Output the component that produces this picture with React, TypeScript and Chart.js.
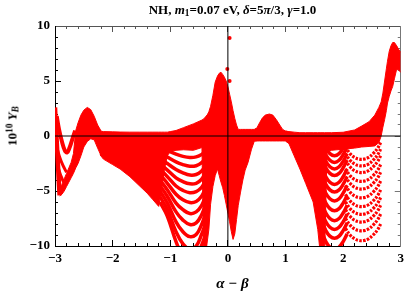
import React, { useEffect, useRef } from "react";
import { Chart, registerables } from "chart.js";

Chart.register(...registerables);

// ---------- axes ----------
const X_MIN = -3;
const X_MAX = 3;
const Y_MIN = -10;
const Y_MAX = 10;
const X_MAJOR = [-3, -2, -1, 0, 1, 2, 3];
const X_MINOR = [-3, -2.8, -2.6, -2.4, -2.2, -2, -1.8, -1.6, -1.4, -1.2, -1, -0.8, -0.6, -0.4, -0.2, 0, 0.2, 0.4, 0.6, 0.8, 1, 1.2, 1.4, 1.6, 1.8, 2, 2.2, 2.4, 2.6, 2.8, 3];
const Y_MAJOR = [-10, -5, 0, 5, 10];
const Y_MINOR = [-10, -9, -8, -7, -6, -5, -4, -3, -2, -1, 0, 1, 2, 3, 4, 5, 6, 7, 8, 9, 10];

// ---------- solid point clouds (upper / lower envelopes) ----------
const HUMP_X = [-2.92, -2.88, -2.84, -2.8, -2.76, -2.72, -2.68, -2.64, -2.6, -2.55, -2.5, -2.44, -2.38, -2.32, -2.26, -2.2];
const HUMP_HI = [-4.8, -4.4, -3.9, -3.4, -2.9, -2.4, -1.6, 0.5, 1.2, 1.9, 2.35, 2.6, 2.4, 1.8, 1.0, 0.45];
const HUMP_LO = [-5.45, -5.3, -5.0, -4.6, -4.2, -3.8, -3.4, -2.9, -2.5, -1.8, -1.0, -0.5, -0.25, -0.35, -1.1, -1.8];

const LEFT_X = [-2.22, -2.16, -2.0, -1.87, -1.7, -1.54, -1.4, -1.3, -1.2, -1.15, -1.1, -1.05, -1.0, -0.9, -0.77, -0.6, -0.45, -0.42, -0.36];
const LEFT_HI = [0.45, 0.4, 0.38, 0.36, 0.35, 0.35, 0.35, 0.35, 0.35, 0.35, 0.35, 0.35, 0.4, 0.5, 0.76, 1.1, 1.45, 1.55, 1.9];
const LEFT_LO = [-1.7, -2.1, -2.6, -3.0, -3.7, -4.5, -5.2, -5.8, -6.4, -4.8, -3.0, -1.8, -1.4, -1.3, -1.25, -1.3, -1.05, -10.5, -10.5];

const CENTER_X = [-0.38, -0.33, -0.3, -0.26, -0.22, -0.18, -0.15, -0.12, -0.09, -0.06, -0.03, 0.0, 0.03, 0.06, 0.09, 0.12, 0.15, 0.18, 0.22, 0.26, 0.3, 0.35, 0.41, 0.46, 0.5];
const CENTER_HI = [1.7, 2.2, 2.7, 3.7, 4.9, 5.45, 5.7, 5.8, 5.6, 5.35, 5.0, 4.5, 3.8, 3.1, 2.3, 1.6, 1.0, 0.6, 0.6, 0.6, 0.6, 0.6, 0.6, 0.6, 0.7];
const CENTER_LO = [-10.5, -8.5, -6.2, -4.6, -3.6, -3.0, -3.6, -4.2, -4.7, -5.4, -6.2, -7.0, -7.8, -8.7, -9.4, -8.9, -7.6, -6.3, -5.1, -4.0, -3.1, -2.4, -1.2, -0.45, -0.45];

const MID_X = [0.46, 0.5, 0.55, 0.6, 0.65, 0.72, 0.78, 0.84, 0.9, 0.95, 1.0, 1.04];
const MID_HI = [0.6, 0.7, 1.2, 1.65, 1.9, 2.0, 1.9, 1.5, 1.0, 0.6, 0.45, 0.4];
const MID_LO = [-0.45, -0.45, -0.45, -0.45, -0.45, -0.45, -0.45, -0.45, -0.45, -0.45, -0.45, -0.6];

const RIGHT_X = [1.0, 1.06, 1.15, 1.25, 1.35, 1.48, 1.56, 1.6, 1.68, 1.72, 1.8, 2.0, 2.2, 2.32, 2.45, 2.55, 2.62, 2.66, 2.69, 2.72, 2.75, 2.77, 2.8, 2.83, 2.86, 2.89, 2.93, 2.96, 3.0];
const RIGHT_HI = [0.45, 0.4, 0.35, 0.3, 0.3, 0.3, 0.3, 0.3, 0.3, 0.3, 0.3, 0.34, 0.55, 0.9, 1.3, 1.9, 2.6, 3.1, 3.9, 5.0, 6.1, 6.8, 7.7, 8.2, 8.5, 8.5, 8.2, 7.9, 7.6];
const RIGHT_LO = [-0.45, -0.7, -1.8, -3.0, -4.3, -6.0, -8.5, -10.5, -10.5, -1.4, -1.3, -1.2, -1.1, -1.0, -0.95, -0.9, -0.6, 0.0, 0.8, 1.5, 2.3, 3.0, 3.6, 4.1, 4.5, 5.2, 6.1, 6.0, 5.8];

// ---------- thin strands at the left edge ----------
const WISP_X = [-3.0, -2.99, -2.98, -2.97, -2.96, -2.95, -2.94, -2.93, -2.92];
const WISP_Y = [2.6, 1.5, 0.5, -0.5, -1.5, -2.5, -3.5, -4.5, -5.4];
const VSTRAND_X = [-2.97, -2.93, -2.88, -2.83, -2.79, -2.75, -2.7, -2.65];
const VSTRAND_Y = [1.8, 0.6, -0.5, -1.3, -1.5, -1.1, -0.3, 0.5];
const STRAND_A_X = [-2.97, -2.92, -2.86, -2.8];
const STRAND_A_Y = [-1.0, -1.9, -2.7, -3.3];
const STRAND_B_X = [-2.95, -2.9, -2.85];
const STRAND_B_Y = [-2.8, -3.6, -4.2];

// ---------- scalloped branches ----------
const LEFT_FAN_X = [-1.18, -1.05, -0.9, -0.78, -0.66, -0.55, -0.46, -0.39];
const LEFT_FAN_Y = [
  [-1.0, -1.3, -1.65, -1.85, -1.95, -1.9, -1.7, -1.3],
  [-1.5, -1.9, -2.35, -2.6, -2.75, -2.7, -2.45, -2.0],
  [-2.0, -2.5, -3.05, -3.35, -3.55, -3.5, -3.2, -2.7],
  [-2.5, -3.1, -3.8, -4.15, -4.35, -4.3, -3.95, -3.4],
  [-3.0, -3.7, -4.55, -4.95, -5.15, -5.05, -4.7, -4.1],
  [-3.5, -4.3, -5.3, -5.8, -6.05, -5.95, -5.5, -4.8],
  [-4.0, -4.9, -6.1, -6.7, -7.05, -6.9, -6.35, -5.5],
  [-4.5, -5.5, -6.9, -7.65, -8.05, -7.9, -7.2, -6.3],
  [-5.0, -6.1, -7.8, -8.7, -9.15, -8.95, -8.1, -7.1],
  [-5.5, -6.7, -8.7, -9.8, -10.3, -10.0, -9.0, -8.0],
  [-6.0, -7.3, -9.6, -10.9, -11.4, -11.1, -10.0, -9.0],
];

const R1_X = [1.64, 1.7, 1.77, 1.85, 1.93, 2.0, 2.07];
const R1_Y = [
  [-0.3, -1.1, -1.6, -1.8, -1.6, -1.1, -0.4],
  [-0.9, -1.7, -2.2, -2.4, -2.2, -1.7, -1.0],
  [-1.5, -2.3, -2.8, -3.0, -2.8, -2.3, -1.6],
  [-2.1, -2.9, -3.4, -3.6, -3.4, -2.9, -2.2],
  [-2.9, -3.7, -4.2, -4.4, -4.2, -3.7, -3.0],
  [-3.6, -4.4, -4.9, -5.1, -4.9, -4.4, -3.7],
  [-4.4, -5.2, -5.7, -5.9, -5.7, -5.2, -4.5],
  [-5.3, -6.1, -6.6, -6.8, -6.6, -6.1, -5.4],
  [-6.2, -7.0, -7.5, -7.7, -7.5, -7.0, -6.3],
  [-7.0, -7.8, -8.3, -8.5, -8.3, -7.8, -7.1],
  [-7.8, -8.6, -9.1, -9.3, -9.1, -8.6, -7.9],
  [-8.8, -9.6, -10.1, -10.3, -10.1, -9.6, -8.9],
];

const R2_X = [2.04, 2.12, 2.2, 2.28, 2.36, 2.44, 2.52, 2.6, 2.66];
const R2_Y = [
  [-1.0, -1.6, -1.95, -2.1, -2.1, -1.95, -1.6, -1.1, -0.5],
  [-1.6, -2.2, -2.55, -2.7, -2.7, -2.55, -2.2, -1.7, -1.1],
  [-2.2, -2.8, -3.15, -3.3, -3.3, -3.15, -2.8, -2.3, -1.7],
  [-3.0, -3.6, -3.95, -4.1, -4.1, -3.95, -3.6, -3.1, -2.5],
  [-3.7, -4.3, -4.65, -4.8, -4.8, -4.65, -4.3, -3.8, -3.2],
  [-4.5, -5.1, -5.45, -5.6, -5.6, -5.45, -5.1, -4.6, -4.0],
  [-5.3, -5.9, -6.25, -6.4, -6.4, -6.25, -5.9, -5.4, -4.8],
  [-6.0, -6.6, -6.95, -7.1, -7.1, -6.95, -6.6, -6.1, -5.5],
  [-6.7, -7.3, -7.65, -7.8, -7.8, -7.65, -7.3, -6.8, -6.2],
  [-7.5, -8.1, -8.45, -8.6, -8.6, -8.45, -8.1, -7.6, -7.0],
  [-8.4, -9.0, -9.35, -9.5, -9.5, -9.35, -9.0, -8.5, -7.9],
];

// ---------- isolated points ----------
const ISO_X = [0.03, -0.01, 0.03];
const ISO_Y = [8.9, 6.1, 5.0];

// ---------- styling ----------
const RED = "#ff0000";
const SERIF = "'Liberation Serif', 'Times New Roman', serif";

const toPts = (xs: number[], ys: number[]) => xs.map((x, i) => ({ x, y: ys[i] }));

function band(xs: number[], hi: number[], lo: number[]) {
  return [
    { data: toPts(xs, lo), borderColor: RED, borderWidth: 1, pointRadius: 0, fill: false, tension: 0, clip: 0 },
    { data: toPts(xs, hi), borderColor: RED, borderWidth: 1, pointRadius: 0, backgroundColor: RED, fill: "-1", tension: 0, clip: 0 },
  ];
}

function curve(xs: number[], ys: number[], width: number, dash: number[] = []) {
  return {
    data: toPts(xs, ys),
    borderColor: RED,
    borderWidth: width,
    borderDash: dash,
    borderCapStyle: "butt",
    pointRadius: 0,
    fill: false,
    tension: 0.4,
    clip: 0,
  };
}

const fmt = (v: number) => (v < 0 ? "\u2212" + Math.abs(v) : String(v));

function axis(pos: string, isX: boolean, ticks: number[], opts: any) {
  return {
    type: "linear",
    position: pos,
    min: isX ? X_MIN : Y_MIN,
    max: isX ? X_MAX : Y_MAX,
    weight: opts.weight,
    afterBuildTicks: (s: any) => {
      s.ticks = ticks.map((v) => ({ value: v }));
    },
    afterFit: (s: any) => {
      if (isX) s.height = opts.size;
      else s.width = opts.size;
    },
    grid: {
      drawOnChartArea: false,
      tickLength: opts.tickLength,
      tickColor: opts.color,
      tickWidth: 1,
    },
    border: { display: opts.border, color: opts.color, width: 1 },
    ticks: opts.labels
      ? {
          display: true,
          autoSkip: false,
          maxRotation: 0,
          color: "#000",
          padding: opts.padding,
          font: { family: SERIF, size: 13, weight: "bold" },
          callback: (v: any) => fmt(Number(v)),
        }
      : { display: false },
  };
}

export default function App() {
  const ref = useRef<HTMLCanvasElement | null>(null);

  useEffect(() => {
    if (!ref.current) return;
    const datasets: any[] = [
      { data: [{ x: X_MIN, y: 0 }, { x: X_MAX, y: 0 }], borderColor: "#000", borderWidth: 1, pointRadius: 0, fill: false, clip: 0 },
      { data: [{ x: 0, y: Y_MIN }, { x: 0, y: Y_MAX }], borderColor: "#000", borderWidth: 1, pointRadius: 0, fill: false, clip: 0 },
      { data: toPts(ISO_X, ISO_Y), showLine: false, pointRadius: 2, pointBackgroundColor: RED, pointBorderWidth: 0, fill: false, clip: 0 },
      curve(WISP_X, WISP_Y, 4.5),
      curve(VSTRAND_X, VSTRAND_Y, 4),
      curve(STRAND_A_X, STRAND_A_Y, 3),
      curve(STRAND_B_X, STRAND_B_Y, 3),
      ...LEFT_FAN_Y.map((ys) => curve(LEFT_FAN_X, ys, 3.5)),
      ...R1_Y.map((ys) => curve(R1_X, ys, 3.5)),
      ...R2_Y.map((ys) => curve(R2_X, ys, 3.2, [2.5, 1.3])),
      ...band(HUMP_X, HUMP_HI, HUMP_LO),
      ...band(LEFT_X, LEFT_HI, LEFT_LO),
      ...band(CENTER_X, CENTER_HI, CENTER_LO),
      ...band(MID_X, MID_HI, MID_LO),
      ...band(RIGHT_X, RIGHT_HI, RIGHT_LO),
    ];

    const chart = new Chart(ref.current, {
      type: "line",
      data: { datasets },
      options: {
        animation: false,
        responsive: false,
        devicePixelRatio: 1,
        events: [],
        layout: { padding: 0 },
        plugins: { legend: { display: false }, tooltip: { enabled: false }, title: { display: false } },
        scales: {
          x: axis("bottom", true, X_MAJOR, { weight: 1, size: 46, tickLength: -6, color: "#000", border: true, labels: true, padding: 11 }),
          xMinor: axis("bottom", true, X_MINOR, { weight: 0, size: 0, tickLength: -3, color: "#000", border: false, labels: false }),
          xTop: axis("top", true, X_MAJOR, { weight: 1, size: 26, tickLength: -6, color: "#555", border: true, labels: false }),
          xTopMinor: axis("top", true, X_MINOR, { weight: 0, size: 0, tickLength: -3, color: "#555", border: false, labels: false }),
          y: axis("left", false, Y_MAJOR, { weight: 1, size: 55, tickLength: -6, color: "#000", border: true, labels: true, padding: 11 }),
          yMinor: axis("left", false, Y_MINOR, { weight: 0, size: 0, tickLength: -3, color: "#000", border: false, labels: false }),
          yRight: axis("right", false, Y_MAJOR, { weight: 1, size: 5, tickLength: -6, color: "#777", border: true, labels: false }),
          yRightMinor: axis("right", false, Y_MINOR, { weight: 0, size: 0, tickLength: -3, color: "#777", border: false, labels: false }),
        } as any,
      },
    } as any);
    return () => chart.destroy();
  }, []);

  const sub: React.CSSProperties = { fontSize: "0.72em", verticalAlign: "-0.25em", lineHeight: 0 };
  const sup: React.CSSProperties = { fontSize: "0.72em", verticalAlign: "0.45em", lineHeight: 0 };

  return (
    <div style={{ position: "fixed", left: 0, top: 0, width: 415, height: 292, background: "#fff", overflow: "hidden" }}>
      <canvas ref={ref} width={415} height={292} style={{ position: "absolute", left: 0, top: 0, width: 415, height: 292, display: "block" }} />
      <div
        style={{
          position: "absolute",
          left: 232.5,
          top: 2,
          transform: "translateX(-50%)",
          whiteSpace: "nowrap",
          fontFamily: SERIF,
          fontWeight: "bold",
          fontSize: 13,
          lineHeight: "15px",
          color: "#000",
        }}
      >
        NH, <i>m</i>
        <span style={sub}>1</span>=0.07 eV, <i>δ</i>=5<i>π</i>/3, <i>γ</i>=1.0
      </div>
      <div
        style={{
          position: "absolute",
          left: 232.5,
          top: 275,
          transform: "translateX(-50%)",
          whiteSpace: "nowrap",
          fontFamily: SERIF,
          fontStyle: "italic",
          fontWeight: "bold",
          fontSize: 15,
          lineHeight: "16px",
          color: "#000",
        }}
      >
        α − β
      </div>
      <div
        style={{
          position: "absolute",
          left: 12,
          top: 126,
          transform: "translate(-50%, -50%) rotate(-90deg)",
          whiteSpace: "nowrap",
          fontFamily: SERIF,
          fontWeight: "bold",
          fontSize: 13,
          lineHeight: "15px",
          color: "#000",
        }}
      >
        10<span style={sup}>10</span> <i>Y</i>
        <span style={{ ...sub, fontStyle: "italic" }}>B</span>
      </div>
    </div>
  );
}
